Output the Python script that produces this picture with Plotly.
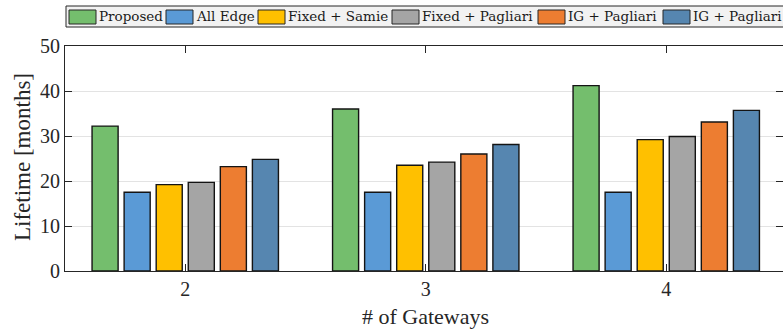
import plotly.graph_objects as go

# Number of gateways
gateways = [2, 3, 4]

# Network lifetime (months) per scheme
proposed = [32.2, 36.0, 41.2]
all_edge = [17.5, 17.5, 17.5]
fixed_samie = [19.2, 23.5, 29.2]
fixed_pagliari = [19.7, 24.2, 29.9]
ig_pagliari_a = [23.2, 26.0, 33.1]
ig_pagliari_b = [24.8, 28.1, 35.7]

series_names = ["Proposed", "All Edge", "Fixed + Samie", "Fixed + Pagliari",
                "IG + Pagliari", "IG + Pagliari"]
series_values = [proposed, all_edge, fixed_samie, fixed_pagliari,
                 ig_pagliari_a, ig_pagliari_b]
colors = ["#74BE6D", "#5A9AD6", "#FFC000", "#A5A5A5", "#ED7D31", "#5686B0"]

W, H = 783, 331
ML, MR, MT, MB = 65, 0, 46, 60
PW, PH = W - ML - MR, H - MT - MB

SERIF = "Liberation Serif"
LEGEND_FONT = "DejaVu Serif"

fig = go.Figure()
for name, vals, col in zip(series_names, series_values, colors):
    fig.add_trace(go.Bar(
        x=gateways, y=vals, name=name,
        marker=dict(color=col, line=dict(color="#141414", width=1.4)),
        showlegend=False,
    ))


def px_x(p):
    return (p - ML) / PW


def px_y(p):
    return (H - MB - p) / PH


shapes = []
annotations = []

# Legend frame
shapes.append(dict(type="rect", xref="paper", yref="paper",
                   x0=px_x(66), x1=px_x(800), y0=px_y(27), y1=px_y(6),
                   line=dict(color="#262626", width=1), fillcolor="#f2f2f2",
                   layer="above"))
legend_slots = [69, 166, 258, 392, 538, 663]
for xs, name, col in zip(legend_slots, series_names, colors):
    shapes.append(dict(type="rect", xref="paper", yref="paper",
                       x0=px_x(xs), x1=px_x(xs + 27), y0=px_y(24), y1=px_y(10),
                       line=dict(color="#262626", width=1), fillcolor=col,
                       layer="above"))
    annotations.append(dict(text=name, xref="paper", yref="paper",
                            x=px_x(xs + 28), y=px_y(16.5), xanchor="left",
                            yanchor="middle", showarrow=False,
                            font=dict(family=LEGEND_FONT, size=13.5,
                                      color="#1a1a1a")))

# Axis titles
annotations.append(dict(text="# of Gateways", xref="paper", yref="paper",
                        x=px_x(426), y=px_y(316), xanchor="center",
                        yanchor="middle", showarrow=False,
                        font=dict(family=SERIF, size=22, color="#262626")))
annotations.append(dict(text="Lifetime [months]", xref="paper", yref="paper",
                        x=px_x(22), y=px_y(157), xanchor="center",
                        yanchor="middle", textangle=-90, showarrow=False,
                        font=dict(family=SERIF, size=23, color="#262626")))

fig.update_layout(
    width=W, height=H,
    margin=dict(l=ML, r=MR, t=MT, b=MB),
    paper_bgcolor="white", plot_bgcolor="white",
    barmode="group", bargap=0.2, bargroupgap=0.1875,
    shapes=shapes, annotations=annotations,
    xaxis=dict(range=[1.5, 1.5 + PW / 240.5], tickvals=gateways,
               ticks="inside", ticklen=7, tickcolor="#262626",
               showline=True, linecolor="#262626", linewidth=1,
               mirror="ticks", showgrid=False, zeroline=False,
               tickfont=dict(family=SERIF, size=20, color="#262626")),
    yaxis=dict(range=[0, 50], tickvals=[0, 10, 20, 30, 40, 50],
               ticks="inside", ticklen=7, tickcolor="#262626",
               showline=True, linecolor="#262626", linewidth=1,
               mirror="ticks", showgrid=True, gridcolor="#e3e3e3",
               gridwidth=1, zeroline=False,
               tickfont=dict(family=SERIF, size=20, color="#262626")),
)

fig.write_html("out.html")
